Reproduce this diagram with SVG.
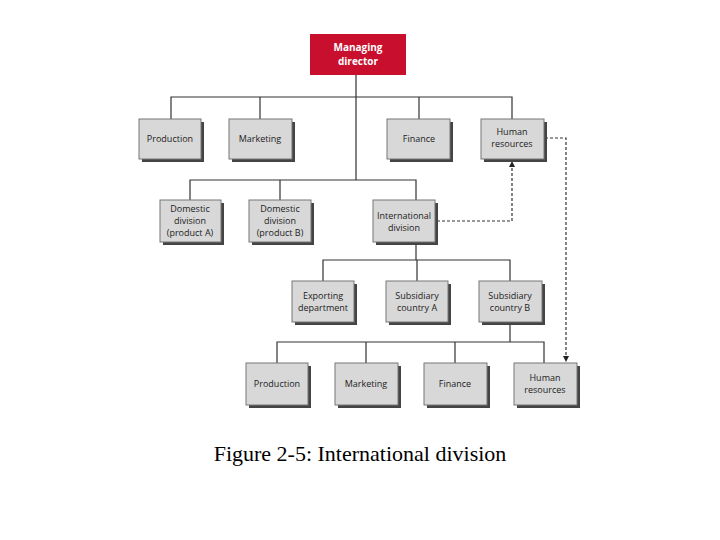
<svg xmlns="http://www.w3.org/2000/svg" width="720" height="540" viewBox="0 0 720 540">
<style>
.b{fill:#d8d8d8;stroke:#777;stroke-width:1}
.s{fill:#444}
.t{font-family:"Open Sans","DejaVu Sans",sans-serif;font-size:9px;fill:#222;text-anchor:middle}
.l{stroke:#333;stroke-width:1.2;fill:none}
.d{stroke:#333;stroke-width:1.2;fill:none;stroke-dasharray:3,2}
</style>
<defs>
<marker id="a" viewBox="0 0 6 6" refX="6" refY="3" markerWidth="5" markerHeight="5" orient="auto"><path d="M0,0L6,3L0,6z" fill="#222"/></marker>
</defs>
<rect width="720" height="540" fill="#fff"/>
<g id="connectors">
<path class="l" d="M356,75V180M171,119V97H512V119M260,97V119M419,97V119M190,200V180H416V200M280,180V200M416,242V260M323,281V260H510V281M417,260V281M510,322V342M277,363V342H544V363M366,342V363M455,342V363"/>
<path class="d" d="M437,221H512V161" marker-end="url(#a)"/>
<path class="d" d="M545,138H566V362" marker-end="url(#a)" marker-start="url(#a)"/>
</g>
<g id="md"><rect x="310" y="34" width="96" height="41" fill="#c8102e"/><text x="358" y="51" font-family="'Open Sans',sans-serif" font-size="10" font-weight="bold" fill="#fff" text-anchor="middle">Managing</text><text x="358" y="65" font-family="'Open Sans',sans-serif" font-size="10" font-weight="bold" fill="#fff" text-anchor="middle">director</text></g>
<g id="prod1"><rect class="s" x="142" y="122" width="62" height="40"/><rect class="b" x="139" y="119" width="62" height="40"/><text class="t" x="170" y="142">Production</text></g>
<g id="mkt1"><rect class="s" x="232" y="122" width="63" height="40"/><rect class="b" x="229" y="119" width="63" height="40"/><text class="t" x="260" y="142">Marketing</text></g>
<g id="fin1"><rect class="s" x="390" y="122" width="63" height="40"/><rect class="b" x="387" y="119" width="63" height="40"/><text class="t" x="419" y="142">Finance</text></g>
<g id="hr1"><rect class="s" x="484" y="122" width="63" height="40"/><rect class="b" x="481" y="119" width="63" height="40"/><text class="t" x="512" y="135">Human</text><text class="t" x="512" y="147">resources</text></g>
<g id="doma"><rect class="s" x="163" y="203" width="61" height="42"/><rect class="b" x="160" y="200" width="61" height="42"/><text class="t" x="190" y="212">Domestic</text><text class="t" x="190" y="224">division</text><text class="t" x="190" y="236">(product A)</text></g>
<g id="domb"><rect class="s" x="252" y="203" width="62" height="42"/><rect class="b" x="249" y="200" width="62" height="42"/><text class="t" x="280" y="212">Domestic</text><text class="t" x="280" y="224">division</text><text class="t" x="280" y="236">(product B)</text></g>
<g id="intl"><rect class="s" x="376" y="203" width="62" height="42"/><rect class="b" x="373" y="200" width="62" height="42"/><text class="t" x="404" y="219">International</text><text class="t" x="404" y="231">division</text></g>
<g id="exp"><rect class="s" x="295" y="284" width="62" height="41"/><rect class="b" x="292" y="281" width="62" height="41"/><text class="t" x="323" y="299">Exporting</text><text class="t" x="323" y="311">department</text></g>
<g id="suba"><rect class="s" x="389" y="284" width="62" height="41"/><rect class="b" x="386" y="281" width="62" height="41"/><text class="t" x="417" y="299">Subsidiary</text><text class="t" x="417" y="311">country A</text></g>
<g id="subb"><rect class="s" x="482" y="284" width="63" height="41"/><rect class="b" x="479" y="281" width="63" height="41"/><text class="t" x="510" y="299">Subsidiary</text><text class="t" x="510" y="311">country B</text></g>
<g id="prod2"><rect class="s" x="249" y="366" width="62" height="42"/><rect class="b" x="246" y="363" width="62" height="42"/><text class="t" x="277" y="387">Production</text></g>
<g id="mkt2"><rect class="s" x="338" y="366" width="63" height="42"/><rect class="b" x="335" y="363" width="63" height="42"/><text class="t" x="366" y="387">Marketing</text></g>
<g id="fin2"><rect class="s" x="427" y="366" width="63" height="42"/><rect class="b" x="424" y="363" width="63" height="42"/><text class="t" x="455" y="387">Finance</text></g>
<g id="hr2"><rect class="s" x="517" y="366" width="63" height="42"/><rect class="b" x="514" y="363" width="63" height="42"/><text class="t" x="545" y="381">Human</text><text class="t" x="545" y="393">resources</text></g>
<text x="360" y="461" font-family="'Liberation Serif',serif" font-size="22" fill="#000" text-anchor="middle">Figure 2-5: International division</text>
</svg>
